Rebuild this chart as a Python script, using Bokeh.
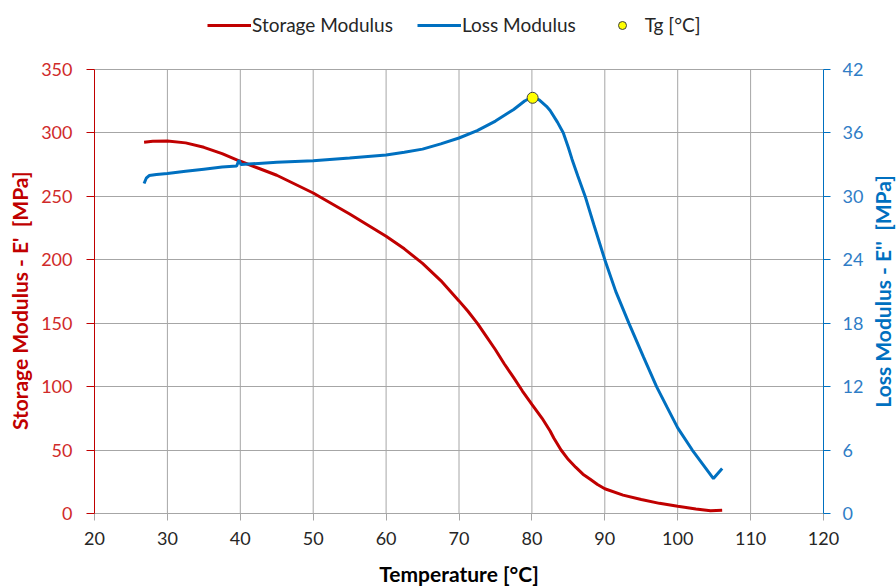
import math
from bokeh.plotting import figure
from bokeh.models import Range1d, LinearAxis, FixedTicker, Legend, LegendItem, Label
from bokeh.embed import file_html
from bokeh.resources import INLINE

# ---- data ----
temp_storage = [26.8, 28, 30, 32.5, 35, 37.5, 40, 42.5, 45, 50, 55, 60, 62.5, 65, 67.5,
                70, 71.2, 72.5, 73.7, 75, 76.2, 77.5, 78.7, 80, 81.4, 82.5, 83.0, 84,
                85, 86, 87, 88, 89, 90, 92.5, 95, 97.5, 100, 102.5, 104.5, 106.1]
storage_modulus = [292.5, 293.3, 293.5, 292, 288.5, 283.5, 277.5, 272, 266.5, 252.5, 236,
                   218.5, 208.5, 197, 183.5, 167.5, 159.5, 150, 140, 129, 118, 107,
                   96.5, 86, 75, 65, 59.5, 50, 42.5, 36.5, 31, 27, 22.8, 19.5, 14.5,
                   11, 8, 5.7, 3.6, 2.2, 2.6]

temp_loss = [26.8, 27.1, 27.5, 28.5, 30, 32.5, 35, 37.5, 39.5, 39.8, 40.1, 42.5, 45, 50,
             55, 60, 62.5, 65, 67.5, 70, 72.5, 75, 77.5, 79, 80, 81, 82, 82.5, 83.5,
             84.3, 85, 85.5, 86.3, 87.3, 88.5, 90, 91.5, 93.3, 95.3, 97.1, 98.5, 100,
             102, 104.9, 106.1]
loss_modulus = [31.2, 31.7, 31.95, 32.05, 32.15, 32.35, 32.55, 32.75, 32.85, 33.4, 33.0,
                33.1, 33.2, 33.35, 33.6, 33.9, 34.15, 34.45, 34.95, 35.5, 36.2, 37.1,
                38.2, 39.0, 39.35, 39.1, 38.5, 38.1, 37.0, 36.0, 34.6, 33.5, 31.9, 30.0,
                27.3, 24.0, 21.0, 18.0, 14.8, 12.0, 10.1, 8.1, 6.0, 3.3, 4.25]

tg_temp = [80.1]
tg_loss = [39.3]

x_ticks = [20, 30, 40, 50, 60, 70, 80, 90, 100, 110, 120]
left_ticks = [0, 50, 100, 150, 200, 250, 300, 350]
right_ticks = [0, 6, 12, 18, 24, 30, 36, 42]

RED = "#C00000"
BLUE = "#0070C0"
GRID = "#A6A6A6"
FONT = "Lato"

# layout: the frame is extended upward so the legend can sit inside it
W, H = 896, 588
BORDER_L, BORDER_R, BORDER_B = 94, 73, 73
AXIS_TOP_PX = 69          # where the 350 / 42 gridline sits
FRAME_TOP_PX = 6
axis_px = H - BORDER_B - AXIS_TOP_PX
frame_px = H - BORDER_B - FRAME_TOP_PX
left_max, right_max = left_ticks[-1], right_ticks[-1]
y_top = left_max * frame_px / axis_px
y2_top = right_max * frame_px / axis_px
PAD = "\u00a0" * 16       # keeps the left title centred on the axis, not the frame

p = figure(width=W, height=H, output_backend="svg", toolbar_location=None,
           x_range=Range1d(x_ticks[0], x_ticks[-1]), y_range=Range1d(0, y_top),
           min_border_left=BORDER_L, min_border_right=BORDER_R,
           min_border_top=FRAME_TOP_PX, min_border_bottom=BORDER_B)
p.extra_y_ranges = {"loss": Range1d(0, y2_top)}
p.outline_line_color = None
p.background_fill_color = "white"
p.border_fill_color = "white"

# grids (vertical grid lines stop at the top of the axes)
p.xgrid.visible = False
p.segment(x0=x_ticks, y0=[0] * len(x_ticks), x1=x_ticks, y1=[left_max] * len(x_ticks),
          line_color=GRID, line_width=1)
p.ygrid.ticker = FixedTicker(ticks=left_ticks)
p.ygrid.grid_line_color = GRID
p.ygrid.grid_line_width = 1

# bottom axis
xa = p.xaxis[0]
xa.ticker = FixedTicker(ticks=x_ticks)
xa.axis_line_color = GRID
xa.major_tick_line_color = GRID
xa.major_tick_out = 7
xa.major_tick_in = 0
xa.minor_tick_line_color = None
xa.major_label_text_font = FONT
xa.major_label_text_font_size = "18px"
xa.major_label_text_color = "#262626"
xa.major_label_standoff = 11
xa.axis_label = "Temperature [°C]"
xa.axis_label_text_font = FONT
xa.axis_label_text_font_style = "bold"
xa.axis_label_text_font_size = "21px"
xa.axis_label_text_color = "#000000"
xa.axis_label_standoff = 13

# left axis
ya = p.yaxis[0]
ya.ticker = FixedTicker(ticks=left_ticks)
ya.bounds = (0, left_max)
ya.axis_line_color = RED
ya.major_tick_line_color = RED
ya.major_tick_out = 8
ya.major_tick_in = 0
ya.minor_tick_line_color = None
ya.major_label_text_font = FONT
ya.major_label_text_font_size = "18px"
ya.major_label_text_color = "#D02A2A"
ya.major_label_standoff = 14
ya.axis_label = "Storage Modulus - E'\u00a0 [MPa]" + PAD
ya.axis_label_text_font = FONT
ya.axis_label_text_font_style = "bold"
ya.axis_label_text_font_size = "21px"
ya.axis_label_text_color = RED
ya.axis_label_standoff = 6

# right axis
ra = LinearAxis(y_range_name="loss", ticker=FixedTicker(ticks=right_ticks))
ra.bounds = (0, right_max)
ra.axis_line_color = BLUE
ra.major_tick_line_color = BLUE
ra.major_tick_out = 7
ra.major_tick_in = 0
ra.minor_tick_line_color = None
ra.major_label_text_font = FONT
ra.major_label_text_font_size = "18px"
ra.major_label_text_color = "#2F7DC6"
ra.major_label_standoff = 12
p.add_layout(ra, "right")

right_title = Label(x=x_ticks[-1], y=right_max / 2, y_range_name="loss", x_offset=59,
                    text="Loss Modulus - E''\u00a0 [MPa]", angle=math.pi / 2,
                    text_align="center", text_baseline="middle",
                    text_font=FONT, text_font_style="bold", text_font_size="21px",
                    text_color=BLUE)
p.add_layout(right_title, "right")

# data
r_storage = p.line(temp_storage, storage_modulus, line_color=RED, line_width=3)
r_loss = p.line(temp_loss, loss_modulus, line_color=BLUE, line_width=3,
                y_range_name="loss")
r_tg = p.scatter(tg_temp, tg_loss, y_range_name="loss", size=11,
                 fill_color="#FFFF00", line_color="#404040", line_width=1)

legend = Legend(items=[LegendItem(label="Storage Modulus", renderers=[r_storage]),
                       LegendItem(label="Loss Modulus", renderers=[r_loss]),
                       LegendItem(label="Tg [°C]", renderers=[r_tg])],
                orientation="horizontal", location=(113, 477),
                padding=0, margin=0, spacing=24, glyph_width=44, glyph_height=20,
                label_standoff=1, border_line_color=None, background_fill_alpha=0,
                label_text_font=FONT, label_text_font_size="19px",
                label_text_color="#262626")
p.add_layout(legend)

open("out.html", "w").write(file_html(p, INLINE))
